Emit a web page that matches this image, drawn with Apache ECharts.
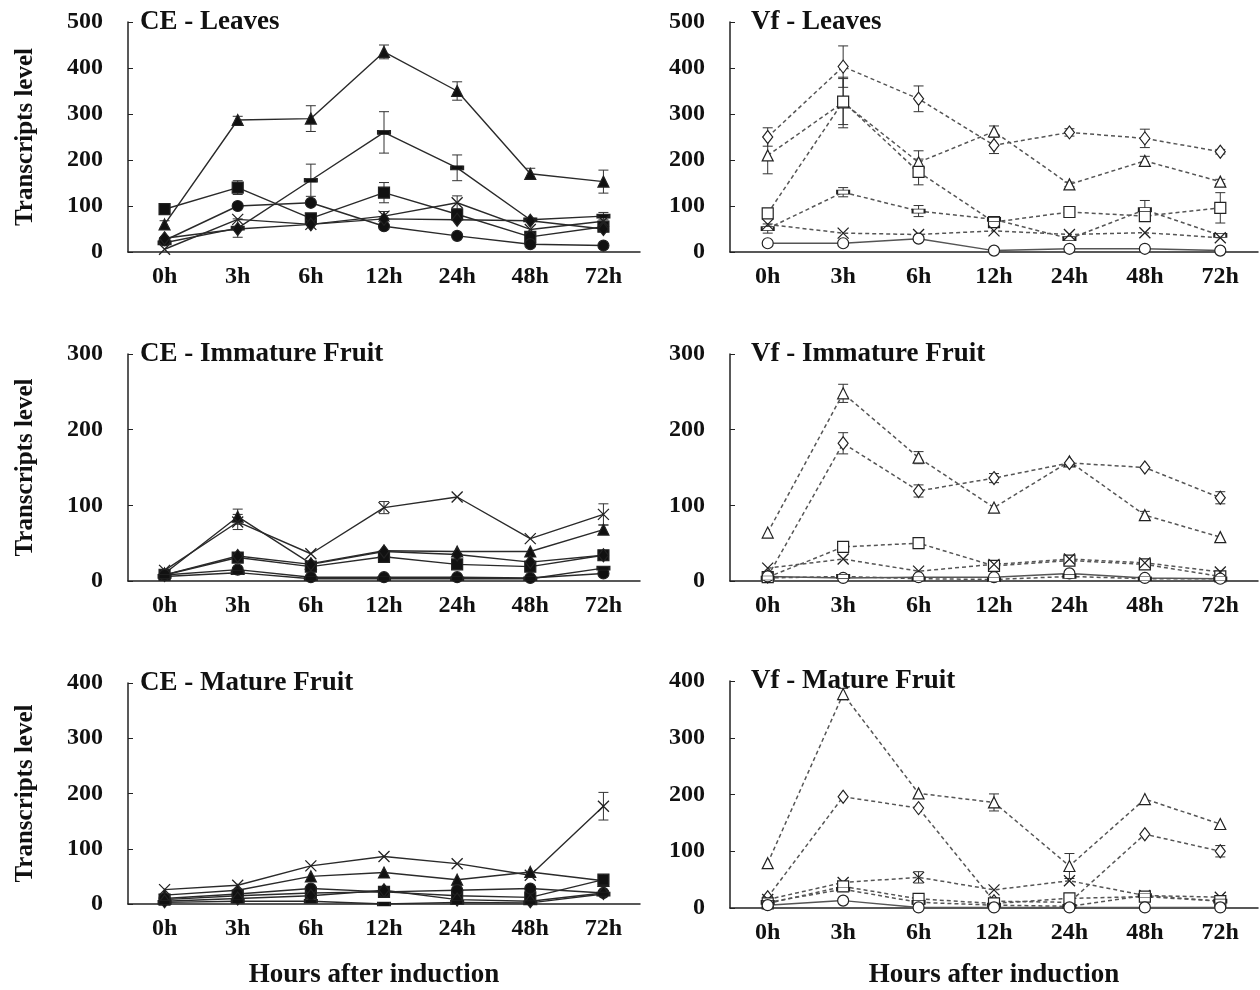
<!DOCTYPE html>
<html>
<head>
<meta charset="utf-8">
<script src="https://cdn.jsdelivr.net/npm/echarts@6/dist/echarts.min.js"></script>
<style>
  html, body { margin: 0; padding: 0; background: #fff; }
  #chart { width: 1260px; height: 990px; }
</style>
</head>
<body>
<div id="chart"></div>
<script>
// ---------------- DATA ----------------
const hours = ['0h', '3h', '6h', '12h', '24h', '48h', '72h'];
const yTicksLeaves = [0, 100, 200, 300, 400, 500];
const yTicksImmature = [0, 100, 200, 300];
const yTicksMature = [0, 100, 200, 300, 400];

// CE - Leaves
const ceLeavesTri   = [60, 287, 290, 435, 350, 170, 153];
const ceLeavesDash  = [20, 52, 156, 260, 183, 70, 78];
const ceLeavesSq    = [93, 140, 73, 129, 82, 33, 55];
const ceLeavesCirc  = [25, 100, 107, 56, 35, 17, 14];
const ceLeavesCross = [6, 71, 60, 78, 107, 49, 67];
const ceLeavesDia   = [30, 50, 60, 72, 70, 68, 50];
const ceLeavesTriErr  = [8, 8, 28, 15, 20, 12, 25];
const ceLeavesDashErr = [0, 20, 35, 45, 28, 0, 8];
const ceLeavesSqErr   = [0, 15, 0, 22, 0, 0, 0];
const ceLeavesCrossErr= [0, 0, 0, 10, 15, 0, 0];

// Vf - Leaves
const vfLeavesDia   = [250, 403, 333, 232, 260, 247, 218];
const vfLeavesTri   = [210, 325, 195, 262, 147, 198, 153];
const vfLeavesSq    = [84, 327, 174, 65, 87, 78, 96];
const vfLeavesDash  = [51, 130, 89, 71, 29, 92, 36];
const vfLeavesCross = [60, 41, 38, 46, 38, 42, 31];
const vfLeavesCirc  = [19, 19, 29, 3, 7, 7, 3];
const vfLeavesDiaErr  = [20, 45, 28, 18, 8, 20, 5];
const vfLeavesTriErr  = [40, 55, 25, 12, 5, 10, 5];
const vfLeavesSqErr   = [0, 50, 28, 0, 0, 0, 33];
const vfLeavesDashErr = [10, 10, 12, 0, 0, 20, 0];

// CE - Immature Fruit
const ceImmTri   = [10, 85, 23, 40, 39, 39, 68];
const ceImmCross = [14, 78, 36, 97, 111, 56, 88];
const ceImmSq    = [8, 31, 19, 32, 22, 19, 34];
const ceImmDia   = [8, 33, 22, 39, 35, 25, 34];
const ceImmCirc  = [8, 15, 5, 5, 5, 4, 10];
const ceImmDash  = [6, 11, 3, 3, 3, 3, 17];
const ceImmTriErr   = [0, 10, 0, 0, 0, 0, 6];
const ceImmCrossErr = [0, 10, 0, 8, 0, 0, 14];

// Vf - Immature Fruit
const vfImmTri   = [64, 248, 163, 97, 158, 87, 58];
const vfImmDia   = [6, 182, 119, 136, 156, 150, 110];
const vfImmSq    = [5, 45, 50, 20, 27, 22, 6];
const vfImmCross = [17, 29, 13, 22, 29, 24, 12];
const vfImmCirc  = [6, 4, 5, 5, 10, 4, 3];
const vfImmDash  = [4, 6, 3, 2, 6, 3, 3];
const vfImmTriErr = [0, 12, 8, 0, 0, 5, 0];
const vfImmDiaErr = [0, 14, 8, 6, 0, 0, 8];

// CE - Mature Fruit
const ceMatCross = [26, 34, 69, 86, 73, 52, 177];
const ceMatTri   = [16, 25, 50, 57, 44, 58, 42];
const ceMatSq    = [8, 15, 20, 22, 15, 12, 44];
const ceMatCirc  = [10, 18, 28, 22, 25, 28, 20];
const ceMatDia   = [5, 10, 15, 25, 8, 5, 20];
const ceMatDash  = [3, 5, 5, 0, 3, 2, 18];
const ceMatCrossErr = [0, 0, 0, 0, 0, 0, 25];

// Vf - Mature Fruit
const vfMatTri   = [79, 377, 202, 186, 74, 192, 148];
const vfMatDia   = [19, 196, 176, 12, 10, 130, 100];
const vfMatCross = [15, 45, 54, 32, 48, 22, 19];
const vfMatSq    = [8, 38, 16, 8, 17, 20, 12];
const vfMatDash  = [10, 33, 10, 5, 3, 22, 12];
const vfMatCirc  = [5, 13, 1, 1, 1, 1, 1];
const vfMatTriErr   = [0, 10, 0, 15, 22, 0, 0];
const vfMatDiaErr   = [0, 0, 0, 0, 0, 0, 10];
const vfMatCrossErr = [0, 0, 10, 0, 0, 0, 0];

// ---------------- STYLE / LAYOUT ----------------
const FONT = '"Liberation Serif", "Times New Roman", serif';
const CROSS = 'path://M0,0L10,10M10,0L0,10';

const panels = [
  { title: 'CE - Leaves', titleLeft: 140, left: 128, width: 512, top: 22, height: 230, max: 500, ce: true, yName: true, xName: false,
    series: [['tri', ceLeavesTri, ceLeavesTriErr], ['dash', ceLeavesDash, ceLeavesDashErr], ['sq', ceLeavesSq, ceLeavesSqErr],
             ['circ', ceLeavesCirc, null], ['cross', ceLeavesCross, ceLeavesCrossErr], ['dia', ceLeavesDia, null]] },
  { title: 'Vf - Leaves', titleLeft: 751, left: 730, width: 528, top: 22, height: 230, max: 500, ce: false, yName: false, xName: false,
    series: [['dia', vfLeavesDia, vfLeavesDiaErr], ['tri', vfLeavesTri, vfLeavesTriErr], ['sq', vfLeavesSq, vfLeavesSqErr],
             ['dash', vfLeavesDash, vfLeavesDashErr], ['cross', vfLeavesCross, null], ['circ', vfLeavesCirc, null]] },
  { title: 'CE - Immature Fruit', titleLeft: 140, left: 128, width: 512, top: 354, height: 227, max: 300, ce: true, yName: true, xName: false,
    series: [['tri', ceImmTri, ceImmTriErr], ['cross', ceImmCross, ceImmCrossErr], ['sq', ceImmSq, null],
             ['dia', ceImmDia, null], ['circ', ceImmCirc, null], ['dash', ceImmDash, null]] },
  { title: 'Vf - Immature Fruit', titleLeft: 751, left: 730, width: 528, top: 354, height: 227, max: 300, ce: false, yName: false, xName: false,
    series: [['tri', vfImmTri, vfImmTriErr], ['dia', vfImmDia, vfImmDiaErr], ['sq', vfImmSq, null],
             ['cross', vfImmCross, null], ['circ', vfImmCirc, null], ['dash', vfImmDash, null]] },
  { title: 'CE - Mature Fruit', titleLeft: 140, left: 128, width: 512, top: 683, height: 222, max: 400, ce: true, yName: true, xName: true,
    series: [['cross', ceMatCross, ceMatCrossErr], ['tri', ceMatTri, null], ['sq', ceMatSq, null],
             ['circ', ceMatCirc, null], ['dia', ceMatDia, null], ['dash', ceMatDash, null]] },
  { title: 'Vf - Mature Fruit', titleLeft: 751, left: 730, width: 528, top: 681, height: 228, max: 400, ce: false, yName: false, xName: true,
    series: [['tri', vfMatTri, vfMatTriErr], ['dia', vfMatDia, vfMatDiaErr], ['cross', vfMatCross, vfMatCrossErr],
             ['sq', vfMatSq, null], ['dash', vfMatDash, null], ['circ', vfMatCirc, null]] }
];

function symbolFor(kind) {
  switch (kind) {
    case 'tri': return { symbol: 'triangle', size: 11 };
    case 'sq': return { symbol: 'rect', size: 11 };
    case 'circ': return { symbol: 'circle', size: 11 };
    case 'dia': return { symbol: 'diamond', size: [10, 13] };
    case 'cross': return { symbol: CROSS, size: 11 };
    case 'dash': return { symbol: 'rect', size: [12, 4] };
  }
}

const grids = [], xAxes = [], yAxes = [], series = [], titles = [];

panels.forEach((p, i) => {
  grids.push({ left: p.left, top: p.top, width: p.width, height: p.height, containLabel: false });
  titles.push({
    text: p.title, left: p.titleLeft, top: p.top - 13, padding: 0,
    textStyle: { fontFamily: FONT, fontSize: 27, fontWeight: 'bold', color: '#111' }
  });
  xAxes.push({
    type: 'category', gridIndex: i, data: hours, boundaryGap: true,
    axisLine: { show: true, lineStyle: { color: '#222', width: 1.5 } },
    axisTick: { show: false },
    axisLabel: { fontFamily: FONT, fontSize: 24, fontWeight: 'bold', color: '#111', margin: 13 },
    splitLine: { show: false },
    name: p.xName ? 'Hours after induction' : '',
    nameLocation: 'middle', nameGap: p.ce ? 58 : 54,
    nameTextStyle: { fontFamily: FONT, fontSize: 27, fontWeight: 'bold', color: '#111',
                     padding: p.ce ? [0, 20, 0, 0] : 0 }
  });
  yAxes.push({
    type: 'value', gridIndex: i, min: 0, max: p.max, interval: 100,
    axisLine: { show: true, lineStyle: { color: '#222', width: 1.5 } },
    axisTick: { show: true, inside: true, length: 5, lineStyle: { color: '#222' } },
    axisLabel: { fontFamily: FONT, fontSize: 24, fontWeight: 'bold', color: '#111', margin: 25 },
    splitLine: { show: false },
    name: p.yName ? 'Transcripts level' : '',
    nameLocation: 'middle', nameGap: 90, nameRotate: 90,
    nameTextStyle: { fontFamily: FONT, fontSize: 25, fontWeight: 'bold', color: '#111' }
  });

  p.series.forEach(([kind, vals, errs]) => {
    const sym = symbolFor(kind);
    const dashed = !p.ce && kind !== 'circ';
    const filled = p.ce;
    series.push({
      type: 'line', xAxisIndex: i, yAxisIndex: i, data: vals,
      symbol: sym.symbol, symbolSize: sym.size, showAllSymbol: true,
      lineStyle: { color: p.ce ? '#2a2a2a' : '#555', width: p.ce ? 1.4 : 1.5, type: dashed ? [4, 3] : 'solid' },
      itemStyle: {
        color: kind === 'cross' ? 'rgba(0,0,0,0)' : (filled ? '#111' : '#fff'),
        borderColor: '#222', borderWidth: kind === 'cross' ? 1.3 : 1.2
      },
      emphasis: { disabled: true }, animation: false, z: 3
    });
    if (errs) {
      const data = [];
      vals.forEach((v, k) => { if (errs[k] > 0) data.push([k, v, errs[k]]); });
      series.push({
        type: 'custom', xAxisIndex: i, yAxisIndex: i, data: data,
        encode: { x: 0, y: 1 }, animation: false, z: 2, silent: true,
        renderItem: function (params, api) {
          const x = api.value(0), v = api.value(1), e = api.value(2);
          const top = api.coord([x, v + e]);
          const bot = api.coord([x, Math.max(0, v - e)]);
          const w = 5;
          const st = { stroke: '#333', lineWidth: 1 };
          return {
            type: 'group', children: [
              { type: 'line', shape: { x1: top[0], y1: top[1], x2: bot[0], y2: bot[1] }, style: st },
              { type: 'line', shape: { x1: top[0] - w, y1: top[1], x2: top[0] + w, y2: top[1] }, style: st },
              { type: 'line', shape: { x1: bot[0] - w, y1: bot[1], x2: bot[0] + w, y2: bot[1] }, style: st }
            ]
          };
        }
      });
    }
  });
});

const chart = echarts.init(document.getElementById('chart'), null, { renderer: 'canvas' });
chart.setOption({
  backgroundColor: '#fff',
  animation: false,
  title: titles,
  grid: grids,
  xAxis: xAxes,
  yAxis: yAxes,
  series: series
});
</script>
</body>
</html>
